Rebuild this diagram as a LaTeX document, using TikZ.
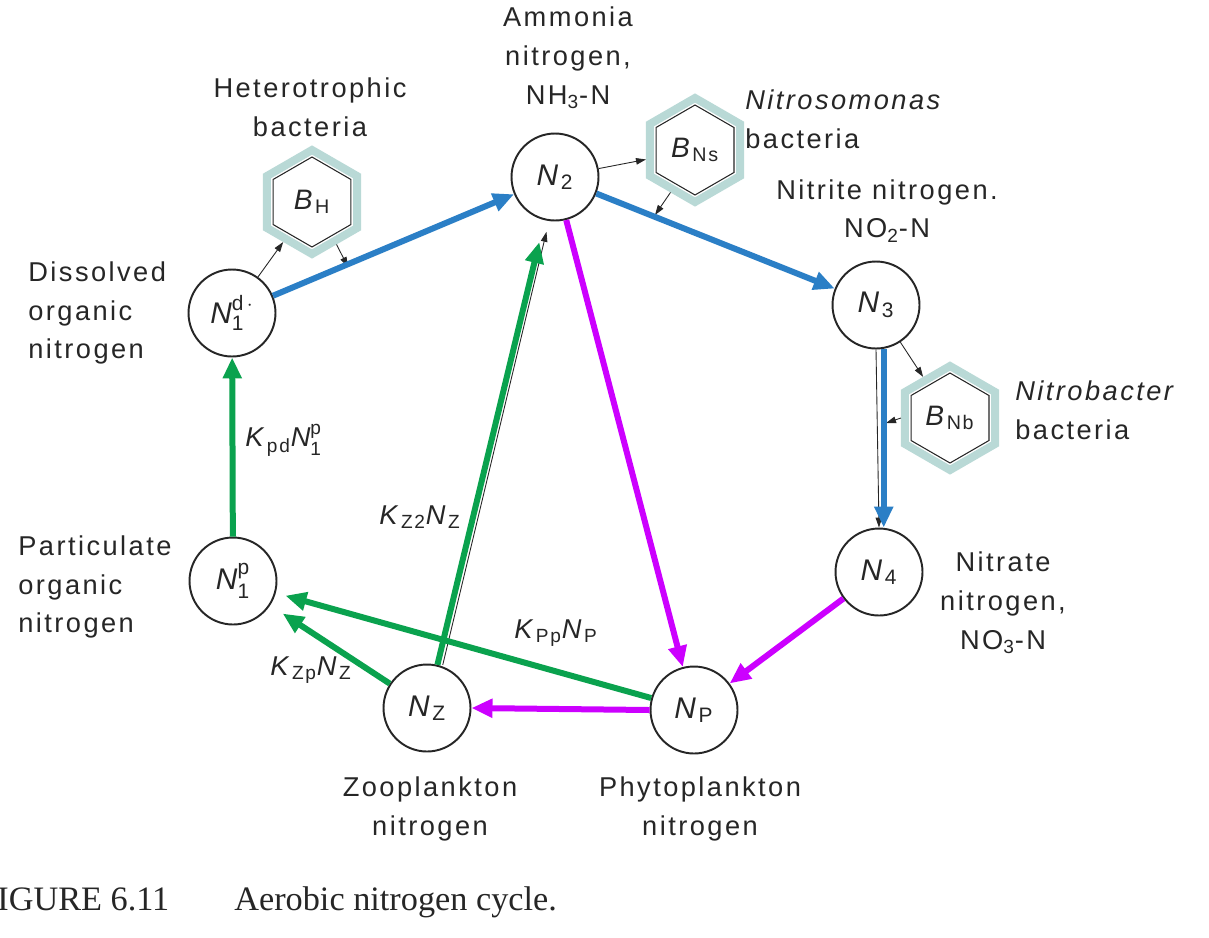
\documentclass[tikz,border=0pt]{standalone}
\usepackage{amsmath}
\usepackage{fontspec}
\setmainfont{Liberation Sans}[LetterSpace=9]
\newfontfamily\capfont{Liberation Serif}
\usetikzlibrary{arrows.meta,shapes.geometric,calc}
\definecolor{cblue}{HTML}{2B7FC6}
\definecolor{cmag}{HTML}{CC00FF}
\definecolor{cgreen}{HTML}{0AA24E}
\definecolor{cteal}{HTML}{B9D9D6}
\definecolor{ink}{HTML}{262626}
\newcommand\Nsub[1]{\textit{N}\textsubscript{#1}}
\newcommand\Nss[2]{$\text{\itshape N}^{\text{#2}}_{\text{#1}}$}
\newcommand\Ksub[1]{\textit{K}\textsubscript{#1}}
\begin{document}
\begin{tikzpicture}[x=0.02cm,y=-0.02cm,
  state/.style={circle,draw=ink,line width=1.1pt,minimum size=1.74cm,inner sep=0pt,
    font=\fontsize{17}{19}\selectfont,text=ink},
  hexout/.style={regular polygon,regular polygon sides=6,shape border rotate=30,
    draw=cteal,line width=0.16cm,minimum size=2.08cm,inner sep=0pt,
    font=\fontsize{16}{18}\selectfont,text=ink},
  hexin/.style={regular polygon,regular polygon sides=6,shape border rotate=30,
    draw=ink,line width=0.6pt,minimum size=1.8cm,inner sep=0pt},
  lab/.style={font=\fontsize{15.5}{22}\selectfont,text=ink,inner sep=0pt},
  flow/.style={line width=0.12cm,-{Triangle[length=0.42cm,width=0.36cm]}},
  thinarr/.style={draw=ink,line width=0.5pt,-{Triangle[length=0.2cm,width=0.13cm]}},
]
\useasboundingbox (0,0) rectangle (1209,937);
\fill[white] (0,0) rectangle (1209,937);

% states
\node[state] (n2) at (555,177) {\Nsub{2}};
\node[state] (n1d) at (232,313) {\Nss{1}{d\,$\cdot$}};
\node[state] (n3) at (876,305) {\Nsub{3}};
\node[state] (n4) at (879,572) {\Nsub{4}};
\node[state] (np) at (694,710) {\Nsub{P}};
\node[state] (nz) at (427,708) {\Nsub{Z}};
\node[state] (n1p) at (233,581) {\Nss{1}{p}};

% bacteria hexagons
\node[hexin] (bhin) at (312,202) {};
\node[hexout] (bh) at (312,202) {\textit{B}\textsubscript{H}};
\node[hexin] (bnsin) at (695,150) {};
\node[hexout] (bns) at (695,150) {\textit{B}\textsubscript{Ns}};
\node[hexin] (bnbin) at (950,418) {};
\node[hexout] (bnb) at (950,418) {\textit{B}\textsubscript{Nb}};

% labels
\node[lab,align=center] (lbh) at (310,107) {Heterotrophic\\bacteria};
\node[lab,align=center] (lamm) at (568,58) {Ammonia\\nitrogen,\\NH\textsubscript{3}-N};
\node[lab,align=left,anchor=west] (lnsm) at (745,119) {\textit{Nitrosomonas}\\bacteria};
\node[lab,align=center] (lnit) at (887,211) {Nitrite nitrogen.\\NO\textsubscript{2}-N};
\node[lab,align=left,anchor=west] (lnb) at (1015,410) {\textit{Nitrobacter}\\bacteria};
\node[lab,align=center] (lnat) at (1003,603) {Nitrate\\nitrogen,\\NO\textsubscript{3}-N};
\node[lab,align=left,anchor=west] (ldis) at (28,313) {Dissolved\\organic\\nitrogen};
\node[lab,align=left,anchor=west] (lpart) at (18,587) {Particulate\\organic\\nitrogen};
\node[lab,align=center] (lzoo) at (430,809) {Zooplankton\\nitrogen};
\node[lab,align=center] (lphy) at (700,809) {Phytoplankton\\nitrogen};
\node[lab,anchor=west] (kpd) at (245,440) {\Ksub{pd}\Nss{1}{p}};
\node[lab] (kz2) at (420,517) {\Ksub{Z2}\Nsub{Z}};
\node[lab] (kzp) at (311,670) {\Ksub{Zp}\Nsub{Z}};
\node[lab] (kpp) at (556,633) {\Ksub{Pp}\Nsub{P}};
\node[anchor=base west,inner sep=0pt,text=ink,font=\capfont\fontsize{19.5}{22}\selectfont] (cap) at (-22,910) {FIGURE 6.11\hspace{1.9em}Aerobic nitrogen cycle.};

% helper coordinates
\coordinate (bhout) at (348,267);
\coordinate (bnsout) at (655,215);
\coordinate (bnbout) at (886,423);

% thin black underlying arrows
\draw[thinarr] (n3.south) -- (n4.north);
\draw[thinarr,shorten >=0.24cm] ($(nz.76)+(5,0)$) -- ($(n2.256)+(5,0)$);
% thin black bacteria arrows
\draw[thinarr] (n1d) -- (bh);
\draw[thinarr] (bh.-60) -- (bhout);
\draw[thinarr] (n2) -- (bns);
\draw[thinarr] (bns.-120) -- (bnsout);
\draw[thinarr] (n3) -- (bnb);
\draw[thinarr] (bnb.180) -- (bnbout);

% coloured flows
\draw[flow,cblue] (n1d) -- (n2);
\draw[flow,cblue] (n2) -- (n3);
\draw[flow,cblue] (n3.-80) -- (n3.-80 |- n4.north);
\draw[flow,cmag] (n2) -- (np);
\draw[flow,cmag] (n4) -- (np);
\draw[flow,cmag] (np.west) -- (nz.east);
\draw[flow,cgreen] (n1p) -- (n1d);
\draw[flow,cgreen,shorten >=0.45cm] (nz) -- (n2);
\draw[flow,cgreen,shorten >=0.3cm] (nz) -- (n1p);
\draw[flow,cgreen,shorten >=0.2cm] (np) -- (n1p);
\end{tikzpicture}
\end{document}
